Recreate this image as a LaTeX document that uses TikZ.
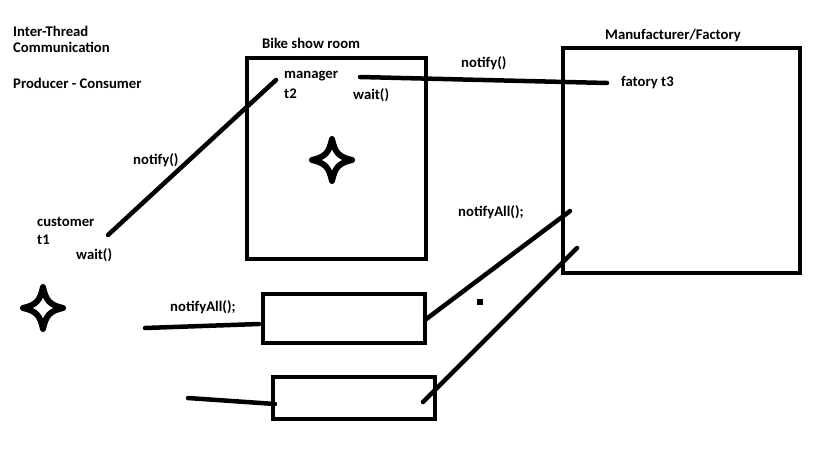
\documentclass[tikz,border=0pt]{standalone}
\usepackage{fontspec}
\setmainfont{Carlito}
\begin{document}
\begin{tikzpicture}[x=1pt,y=-1pt,
  lbl/.style={anchor=west,inner sep=0pt,font=\fontsize{14.7}{16}\selectfont\bfseries},
  boxline/.style={line width=4pt},
  wire/.style={line width=4.5pt,line cap=round},
  star4/.pic={\draw[line width=6pt,line join=round]
     (0,-21) .. controls (3,-7) and (7,-3) .. (20,0)
     .. controls (7,3) and (3,7) .. (0,21)
     .. controls (-3,7) and (-7,3) .. (-20,0)
     .. controls (-7,-3) and (-3,-7) .. cycle;}]
\useasboundingbox[fill=white] (0,0) rectangle (819,460);
% titles
\node[lbl] (t1) at (13,31) {Inter-Thread};
\node[lbl] (t2) at (13,47) {Communication};
\node[lbl] (t3) at (13,83) {Producer - Consumer};
\node[lbl] (bsr) at (262,43) {Bike show room};
\node[lbl] (mf) at (605,35) {Manufacturer/Factory};
% boxes
\draw[boxline] (247,58) rectangle (426,259);
\draw[boxline] (563,48) rectangle (800,273);
\draw[boxline] (263,294) rectangle (425,343);
\draw[boxline] (273,377) rectangle (435,419);
% labels
\node[lbl] (mgr) at (284,76) {manager};
\node[lbl] (t2l) at (284,94) {t2};
\node[lbl] (w2) at (353,95) {wait()};
\node[lbl] (n1) at (461,63) {notify()};
\node[lbl] (fac) at (621,83) {fatory t3};
\node[lbl] (n2) at (133,160) {notify()};
\node[lbl] (cust) at (37,222) {customer};
\node[lbl] (t1l) at (37,240) {t1};
\node[lbl] (w1) at (76,255) {wait()};
\node[lbl] (na1) at (170,307) {notifyAll();};
\node[lbl] (na2) at (458,212) {notifyAll();};
% stars
\pic at (332,160) {star4};
\pic at (43,308) {star4};
% small dot
\fill (477,299) rectangle (483,305);
% connector end points
\coordinate (a1) at (108,235);
\coordinate (a2) at (276,80);
\coordinate (b1) at (360,77);
\coordinate (b2) at (607,83);
\coordinate (c1) at (145,328);
\coordinate (c2) at (259,324);
\coordinate (d1) at (188,398);
\coordinate (d2) at (275,404);
\coordinate (e1) at (425,320);
\coordinate (e2) at (570,211);
\coordinate (f1) at (423,402);
\coordinate (f2) at (577,248);
\draw[wire] (a1) -- (a2);
\draw[wire] (b1) -- (b2);
\draw[wire] (c1) -- (c2);
\draw[wire] (d1) -- (d2);
\draw[wire] (e1) -- (e2);
\draw[wire] (f1) -- (f2);
\end{tikzpicture}
\end{document}
